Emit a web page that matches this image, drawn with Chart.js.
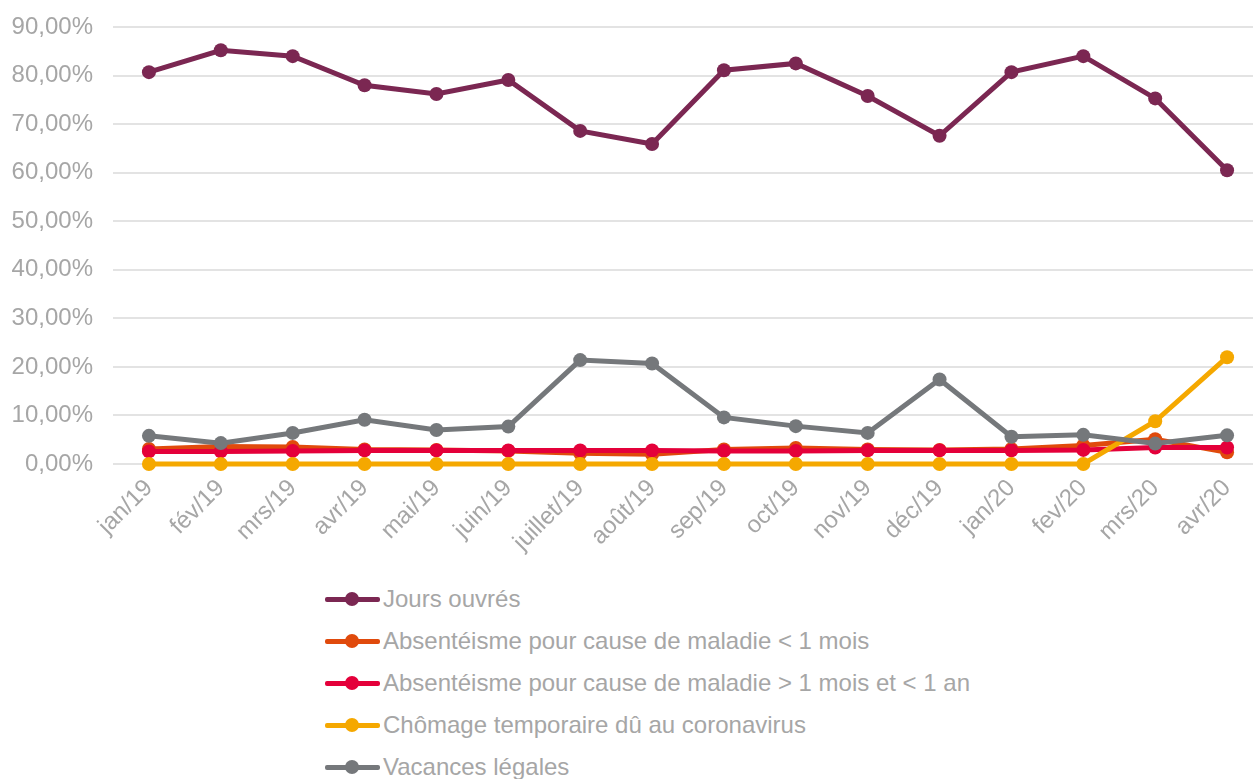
<!DOCTYPE html>
<html>
<head>
<meta charset="utf-8">
<script src="https://cdn.jsdelivr.net/npm/chart.js@4/dist/chart.umd.min.js"></script>
<style>
  html, body { margin: 0; padding: 0; background: #fff; overflow: hidden; }
  #wrap { position: relative; width: 1270px; height: 575px; }
  #legend { position: absolute; left: 325px; top: 578px; font-family: "Liberation Sans", Arial, sans-serif; font-size: 24px; color: #a6a6a6; }
  .item { display: flex; align-items: center; height: 42px; }
  .icon { position: relative; width: 55px; height: 14px; margin-right: 3px; }
  .icon .ln { position: absolute; left: 0; right: 0; top: 5px; height: 5px; border-radius: 2px; }
  .icon .dot { position: absolute; left: 20px; top: 0; width: 14px; height: 14px; border-radius: 50%; }
</style>
</head>
<body>
<div id="wrap"><canvas id="chart"></canvas></div>
<div id="legend"></div>
<script>
const months = ["jan/19", "fév/19", "mrs/19", "avr/19", "mai/19", "juin/19", "juillet/19", "août/19",
  "sep/19", "oct/19", "nov/19", "déc/19", "jan/20", "fev/20", "mrs/20", "avr/20"];

const joursOuvres = [80.7, 85.2, 84.0, 78.0, 76.2, 79.1, 68.6, 65.9, 81.1, 82.5, 75.8, 67.6, 80.7, 84.0, 75.3, 60.5];
const maladieMoins1Mois = [3.1, 3.6, 3.5, 3.0, 2.9, 2.7, 2.2, 2.0, 3.0, 3.3, 3.0, 2.9, 3.1, 3.8, 5.1, 2.4];
const maladie1MoisA1An = [2.6, 2.6, 2.7, 2.8, 2.8, 2.8, 2.8, 2.8, 2.7, 2.7, 2.8, 2.8, 2.8, 2.9, 3.4, 3.4];
const chomageCorona = [0, 0, 0, 0, 0, 0, 0, 0, 0, 0, 0, 0, 0, 0, 8.8, 22.0];
const vacancesLegales = [5.8, 4.3, 6.4, 9.1, 7.0, 7.7, 21.4, 20.7, 9.6, 7.8, 6.4, 17.4, 5.6, 6.0, 4.2, 5.9];

const seriesNames = ["Jours ouvrés", "Absentéisme pour cause de maladie < 1 mois",
  "Absentéisme pour cause de maladie > 1 mois et < 1 an", "Chômage temporaire dû au coronavirus", "Vacances légales"];
const seriesColors = ["#7b2752", "#e04a0c", "#e4003a", "#f5a800", "#75787b"];
const seriesData = [joursOuvres, maladieMoins1Mois, maladie1MoisA1An, chomageCorona, vacancesLegales];

const textColor = "#a6a6a6";
const font = { family: "'Liberation Sans', Arial, sans-serif", size: 24 };

const datasets = seriesData.map((d, i) => ({
  label: seriesNames[i],
  data: d,
  borderColor: seriesColors[i],
  backgroundColor: seriesColors[i],
  borderWidth: 5,
  pointRadius: 7,
  pointHoverRadius: 7,
  pointBorderWidth: 0,
  tension: 0,
  clip: false,
  order: seriesData.length - 1 - i
}));

new Chart(document.getElementById("chart"), {
  type: "line",
  data: { labels: months, datasets: datasets },
  options: {
    responsive: true,
    maintainAspectRatio: false,
    animation: false,
    layout: { padding: { top: 27, right: 0, left: 0, bottom: 0 } },
    plugins: { legend: { display: false }, tooltip: { enabled: false } },
    scales: {
      x: {
        offset: true,
        grid: { display: false },
        border: { display: false },
        ticks: { color: textColor, font: font, minRotation: 45, maxRotation: 45, padding: 2 },
        afterFit: scale => { scale.height = 111; }
      },
      y: {
        min: 0,
        max: 90,
        grid: { color: "#e3e3e3", lineWidth: 2, drawTicks: false },
        border: { display: false },
        ticks: {
          stepSize: 10,
          color: textColor,
          font: font,
          padding: 20,
          callback: v => v.toFixed(2).replace(".", ",") + "%"
        },
        afterFit: scale => {
          scale.width = 113;
          scale.paddingTop = 0;
          scale.paddingBottom = 0;
        }
      }
    }
  }
});

// legend, one item per row
const legend = document.getElementById("legend");
seriesNames.forEach((name, i) => {
  const row = document.createElement("div");
  row.className = "item";
  row.innerHTML = '<span class="icon"><span class="ln" style="background:' + seriesColors[i] + '"></span>' +
    '<span class="dot" style="background:' + seriesColors[i] + '"></span></span><span>' + name + '</span>';
  legend.appendChild(row);
});
</script>
</body>
</html>
